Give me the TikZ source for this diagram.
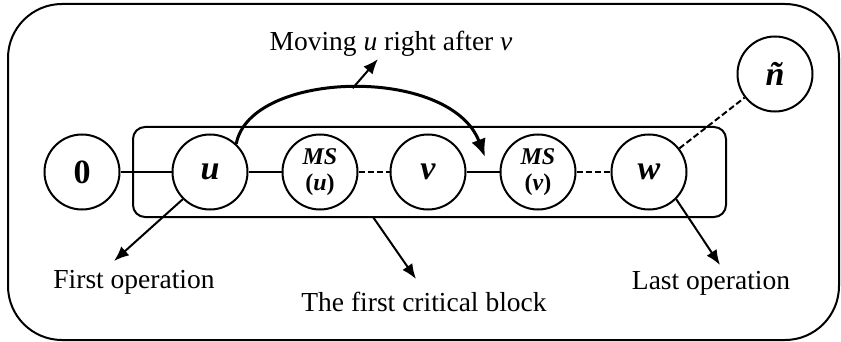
\documentclass[tikz,border=0pt]{standalone}
\usepackage{fontspec}
\setmainfont{Liberation Serif}
\usetikzlibrary{calc}
\usetikzlibrary{arrows.meta}
\usetikzlibrary{positioning}

\tikzset{
  opnode/.style={circle, draw, line width=1pt, minimum size=37.5pt, inner sep=0pt,
                 font=\fontsize{17}{20}\selectfont\bfseries},
  msnode/.style={opnode, align=center, font=\fontsize{12}{13}\selectfont\bfseries},
  tag/.style={font=\fontsize{13.75}{16}\selectfont, inner sep=1pt},
  pointer/.style={-{Latex[length=7.5pt, width=6pt]}, line width=1pt},
  chain/.style={line width=1pt},
  dashchain/.style={line width=1pt, dash pattern=on 3pt off 1.5pt},
}

\begin{document}
\begin{tikzpicture}[x=0.5pt, y=-0.5pt]
% Frame
\useasboundingbox (0,0) rectangle (841,342);
\draw[line width=1pt, rounded corners=27pt] (8,4) rectangle (839,340);

% ---------------------------------------------------
% Critical block
\coordinate[] (b1) at (133,127);
\coordinate[] (b2) at (726,217);
\draw[line width=1pt, rounded corners=6pt] (b1) rectangle (b2);
\coordinate[] (blockfoot) at ($ (b1 |- b2) + (240, 0) $);

% Operations
\node[opnode] (zero) at ( 82,172) {0};
\node[opnode] (u)    at (210,172) {\textit{u}};
\node[msnode] (msu)  at (320,172) {\textit{MS}\\(\textit{u})};
\node[opnode] (v)    at (428,172) {\textit{v}};
\node[msnode] (msv)  at (538,172) {\textit{MS}\\(\textit{v})};
\node[opnode] (w)    at (649,172) {\textit{w}};
\node[opnode] (nend) at (775, 74) {\textit{ñ}};

% Sequence
\path[] (zero) edge[chain] (u)
        (u)    edge[chain] (msu)
        (msu)  edge[dashchain] (v)
        (v)    edge[chain] (msv)
        (msv)  edge[dashchain] (w)
        (w)    edge[dashchain] (nend);

% ---------------------------------------------------
% Move of u
\coordinate[] (drop) at (485,157);
\draw[line width=1.5pt, -{Latex[length=9pt, width=7.5pt]}]
     (u.47) .. controls (250,70) and (450,65) .. coordinate[pos=0.5] (peak) (drop);

% Labels
\node[tag] (movetxt)  at (391, 44) {Moving \textit{u} right after \textit{v}};
\node[tag] (firstop)  at (134,282) {First operation};
\node[tag] (blocktxt) at (424,302) {The first critical block};
\node[tag] (lastop)   at (711,283) {Last operation};

% Pointers
\coordinate[] (firsttip) at (114,261);
\coordinate[] (blocktip) at (416,279);
\coordinate[] (lasttip)  at (720,265);
\draw[pointer] (peak) -- (movetxt);
\draw[pointer] (u.225) -- (firsttip);
\draw[pointer] (blockfoot) -- (blocktip);
\draw[pointer] (w.-45) -- (lasttip);
% ---------------------------------------------------
\end{tikzpicture}
\end{document}
